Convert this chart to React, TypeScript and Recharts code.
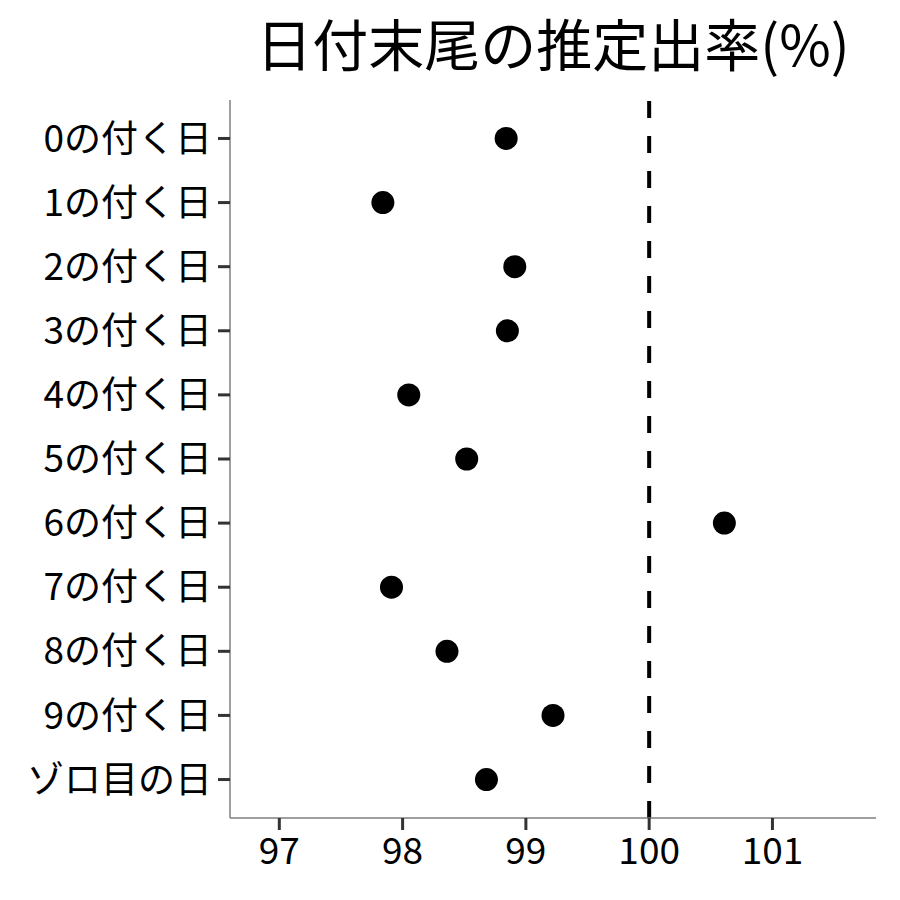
import React from 'react';
import { ScatterChart, Scatter, XAxis, YAxis, ReferenceLine } from 'recharts';

const categories = ['0の付く日', '1の付く日', '2の付く日', '3の付く日', '4の付く日', '5の付く日', '6の付く日', '7の付く日', '8の付く日', '9の付く日', 'ゾロ目の日'];
const rates = [98.84, 97.84, 98.91, 98.85, 98.05, 98.52, 100.61, 97.91, 98.36, 99.22, 98.68];
const xTicks = [97, 98, 99, 100, 101];
const yTicks = [0, 1, 2, 3, 4, 5, 6, 7, 8, 9, 10];
const title = '日付末尾の推定出率(%)';

const data = categories.map((c, i) => ({ name: c, idx: i, rate: rates[i] }));

const FONT = '"Noto Sans CJK JP", "Noto Sans", sans-serif';

export default function App() {
  return (
    <div style={{ position: 'relative', width: 900, height: 900, margin: -8, background: '#fff', fontFamily: FONT }}>
      <div style={{ position: 'absolute', left: 230, width: 646, top: 9, textAlign: 'center', fontSize: 56, lineHeight: '66px', color: '#000' }}>
        {title}
      </div>
      <ScatterChart width={900} height={900} margin={{ top: 100, right: 24, bottom: 0, left: 0 }}>
        <XAxis
          type="number"
          dataKey="rate"
          domain={[96.6, 101.84]}
          ticks={xTicks}
          allowDataOverflow
          height={82}
          tickSize={12}
          tickMargin={8}
          axisLine={{ stroke: '#7f7f7f', strokeWidth: 1.5 }}
          tickLine={{ stroke: '#333', strokeWidth: 3 }}
          tick={{ fill: '#000', fontSize: 37, fontFamily: FONT }}
        />
        <YAxis
          type="number"
          dataKey="idx"
          domain={[-0.6, 10.6]}
          reversed
          ticks={yTicks}
          interval={0}
          allowDataOverflow
          width={230}
          tickSize={12}
          tickMargin={6}
          tickFormatter={(v: number) => categories[v]}
          axisLine={{ stroke: '#7f7f7f', strokeWidth: 1.5 }}
          tickLine={{ stroke: '#333', strokeWidth: 3 }}
          tick={{ fill: '#000', fontSize: 37, fontFamily: FONT }}
        />
        <ReferenceLine x={100} stroke="#000" strokeWidth={4} strokeDasharray="17 18" />
        <Scatter
          data={data}
          isAnimationActive={false}
          shape={(p: any) => <circle cx={p.cx} cy={p.cy} r={11.5} fill="#000" />}
        />
      </ScatterChart>
    </div>
  );
}
